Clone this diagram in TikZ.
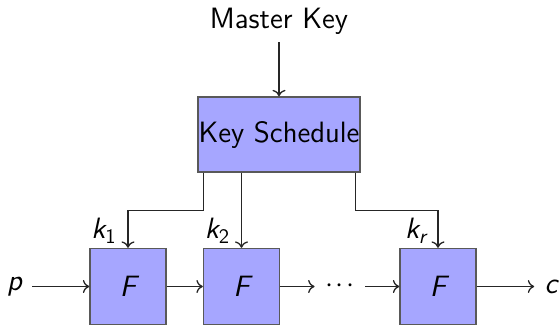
\documentclass[tikz,border=0pt]{standalone}
\usepackage{fontspec}
\renewcommand{\familydefault}{\sfdefault}
\usepackage{amsmath}
\usetikzlibrary{calc,arrows.meta}
\begin{document}
\begin{tikzpicture}[x=0.5pt,y=-0.5pt,
  every node/.style={font=\fontsize{14.7}{17.5}\selectfont},
  blk/.style={draw=black!65, fill=blue!35, line width=0.7pt, inner sep=0pt},
  conn/.style={-{To[length=3.2pt,width=6.5pt]}, line width=0.65pt, draw=black!85},
  lbl/.style={inner sep=5pt}]
\useasboundingbox (0,0) rectangle (560,325);
\node[anchor=base] (mk) at (279,29) {Master Key};
\node[blk, minimum width=81pt, minimum height=37.5pt] (ks) at (279,134.5) {Key Schedule};
\node[blk, minimum size=38pt] (f1) at (128,286.5) {\itshape F};
\node[blk, minimum size=38pt] (f2) at (241.5,286.5) {\itshape F};
\node[blk, minimum size=38pt] (f3) at (438,286.5) {\itshape F};
\node[lbl] (p) at (14.5,286.5) {\itshape p};
\node[lbl] (c) at (551,286.5) {\itshape c};
\node[inner xsep=5.5pt] (dots) at (340,286.5) {${\cdotp}\mkern1.3mu{\cdotp}\mkern1.3mu{\cdotp}$};
\node (k1) at ([xshift=-12pt,yshift=8.5pt]f1.north) {$\textit{k}_{\text{1}}$};
\node (k2) at ([xshift=-12pt,yshift=8.5pt]f2.north) {$\textit{k}_{\text{2}}$};
\node (kr) at ([xshift=-11pt,yshift=8.5pt]f3.north) {$\textit{k}_{\textit{r}}$};
\draw[conn] (mk.south) -- (mk.south |- ks.north);
\draw[conn] ([xshift=3pt]ks.south west) -- ++(0,38) -| (f1.north);
\draw[conn] (ks.south -| f2.north) -- (f2.north);
\draw[conn] ([xshift=-2.5pt]ks.south east) -- ++(0,38) -| (f3.north);
\draw[conn] (p) -- (f1);
\draw[conn] (f1) -- (f2);
\draw[conn] (f2) -- (dots.west |- f2.east);
\draw[conn] (dots.east |- f3.west) -- (f3);
\draw[conn] (f3) -- (c);
\end{tikzpicture}
\end{document}
